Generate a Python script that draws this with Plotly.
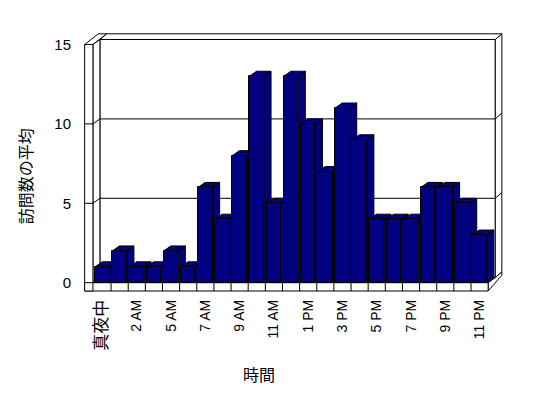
import plotly.graph_objects as go

# ---- data ----
categories = ["真夜中", "1 AM", "2 AM", "4 AM", "5 AM", "6 AM", "7 AM", "8 AM",
              "9 AM", "10 AM", "11 AM", "12 PM", "1 PM", "2 PM", "3 PM", "4 PM",
              "5 PM", "6 PM", "7 PM", "8 PM", "9 PM", "10 PM", "11 PM"]
visits = [1, 2, 1, 1, 2, 1, 6, 4, 8, 13, 5, 13, 10, 7, 11, 9, 4, 4, 4, 6, 6, 5, 3]
y_ticks = [0, 5, 10, 15]
x_title = "時間"
y_title = "訪問数の平均"

# ---- geometry ----
OFF = 8                                   # page body margin
W, H = 548 - OFF, 398 - OFF
PL, PR, PT, PB = 80 - OFF, 506 - OFF, 30 - OFF, 296 - OFF   # plot area in pixels
SX, SY = 17.14, 15.88                     # pixels per x unit / y unit
CX0, CY0 = 102.5 - OFF, 282.7 - OFF       # pixel of (x=0, y=0)

def ux(px):
    return px / SX

def uy(px):
    return px / SY

xr = [(PL - CX0) / SX, (PR - CX0) / SX]
yr = [(CY0 - PB) / SY, (CY0 - PT) / SY]

n = len(categories)
pos = list(range(n))
ymax = y_ticks[-1]
ddx, ddy = ux(7), uy(5)          # depth of bars / floor
tx, ty = ux(6.7), uy(5.7)        # wall thickness
xl_in = -0.5 - ux(1)             # inner face of left wall (front)
xl_out = xl_in - ux(8.3)
xr_f = n - 0.5                   # right end of floor (front)
yfb = -uy(8.3)                   # floor bottom
bw = 0.85
NAVY = "#000080"

shapes = []

def poly(pts, fill="white", width=1):
    d = "M " + " L ".join(f"{x},{y}" for x, y in pts) + " Z"
    shapes.append(dict(type="path", path=d, xref="x", yref="y", layer="below",
                       fillcolor=fill, line=dict(color="black", width=width)))

def seg(x0, y0, x1, y1):
    shapes.append(dict(type="line", x0=x0, y0=y0, x1=x1, y1=y1, xref="x", yref="y",
                       layer="below", line=dict(color="black", width=1)))

bx0, bx1 = xl_in + ddx, xr_f + ddx
# back wall right face and top face
poly([(bx1, ymax + ddy), (bx1 + tx, ymax + ddy + ty), (bx1 + tx, ddy + ty), (bx1, ddy)])
poly([(bx0, ymax + ddy), (bx0 + tx, ymax + ddy + ty), (bx1 + tx, ymax + ddy + ty), (bx1, ymax + ddy)])
# back wall inner face
poly([(bx0, ddy), (bx0, ymax + ddy), (bx1, ymax + ddy), (bx1, ddy)])
# left wall top face
poly([(xl_out, ymax), (xl_out + ddx + tx, ymax + ddy + ty), (xl_in + ddx + tx, ymax + ddy + ty), (xl_in, ymax)])
# left wall inner face
poly([(xl_in, 0), (xl_in, ymax), (bx0, ymax + ddy), (bx0, ddy)])
# floor top face
poly([(xl_in, 0), (bx0, ddy), (bx1, ddy), (xr_f, 0)])
# floor right face
poly([(xr_f, 0), (bx1, ddy), (bx1 + tx, ddy + ty), (bx1 + tx, ddy + ty + yfb * 0.4), (xr_f, yfb)])
# floor front face
poly([(xl_out, yfb), (xl_out, 0), (xr_f, 0), (xr_f, yfb)])
# left wall front face
poly([(xl_out, yfb), (xl_out, ymax), (xl_in, ymax), (xl_in, yfb)])

# gridlines
for v in y_ticks[1:-1]:
    seg(xl_out, v, xl_in, v)
    seg(xl_in, v, bx0, v + ddy)
    seg(bx0, v + ddy, bx1, v + ddy)
    seg(bx1, v + ddy, bx1 + tx, v + ddy + ty)
seg(xl_out, y_ticks[0], xl_in, y_ticks[0])

# category boundary ticks on the floor front face
for k in range(n - 1):
    seg(k + 0.5, 0, k + 0.5, yfb)

fig = go.Figure()

# side and top faces of the bars (drawn behind the fronts)
for c, v in zip(pos, visits):
    h = bw / 2
    xs = [c - h, c - h + ddx, c + h + ddx, c + h, c - h, None,
          c + h, c + h + ddx, c + h + ddx, c + h, c + h]
    ys = [v, v + ddy, v + ddy, v, v, None,
          v, v + ddy, ddy, 0, v]
    fig.add_trace(go.Scatter(x=xs, y=ys, mode="lines", fill="toself",
                             fillcolor=NAVY, line=dict(color="black", width=1),
                             hoverinfo="skip", showlegend=False, xaxis="x", yaxis="y"))

# front faces
fig.add_trace(go.Bar(x=pos, y=visits, width=bw, marker=dict(color=NAVY,
                     line=dict(color="black", width=1)), showlegend=False,
                     xaxis="x2", yaxis="y2"))

tick_text = [f"<span style='font-size:17px;color:#000000'>{t}</span>" if not t.isascii() else t
             for t in categories[::2]]

font_family = "Liberation Sans, Arial, Noto Sans CJK JP, sans-serif"
fig.update_layout(
    width=W, height=H,
    margin=dict(l=PL, r=W - PR, t=PT, b=H - PB, pad=0),
    paper_bgcolor="white", plot_bgcolor="white",
    font=dict(family=font_family, color="black", size=14),
    xaxis=dict(range=xr, showgrid=False, zeroline=False, showline=False,
               tickmode="array", tickvals=pos[::2], ticktext=tick_text,
               tickangle=-90, ticks="", tickfont=dict(size=14, color="black")),
    yaxis=dict(range=yr, showgrid=False, zeroline=False, showline=False,
               tickmode="array", tickvals=y_ticks, ticks="outside", ticklen=5,
               tickcolor="rgba(0,0,0,0)", tickfont=dict(size=15, color="black")),
    xaxis2=dict(range=xr, overlaying="x", visible=False),
    yaxis2=dict(range=yr, overlaying="y", visible=False),
    shapes=shapes,
    annotations=[
        dict(text=x_title, xref="paper", yref="paper",
             x=(258.7 - OFF - PL) / (PR - PL), y=(PB - (375 - OFF)) / (PB - PT),
             showarrow=False, font=dict(size=16), xanchor="center", yanchor="middle"),
        dict(text=y_title, xref="paper", yref="paper",
             x=(26.7 - OFF - PL) / (PR - PL), y=(PB - (176.5 - OFF)) / (PB - PT),
             showarrow=False, font=dict(size=16), textangle=-90,
             xanchor="center", yanchor="middle"),
    ],
    bargap=0,
)

fig.write_html("out.html")
